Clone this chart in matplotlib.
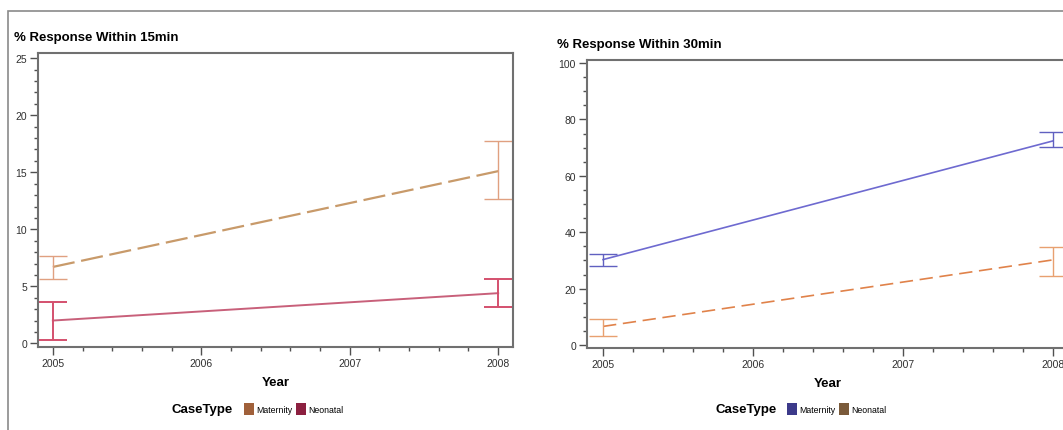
import matplotlib
matplotlib.use("Agg")
import matplotlib.pyplot as plt
from matplotlib.patches import Patch, Rectangle
from matplotlib.ticker import MultipleLocator

plt.rcParams["font.family"] = ["Liberation Sans", "DejaVu Sans"]

years = [2005, 2008]
year_ticks = [2005, 2006, 2007, 2008]

# % response within 15 min
mat15 = [6.7, 15.1]
mat15_lo = [5.6, 12.7]
mat15_hi = [7.7, 17.7]
neo15 = [2.0, 4.4]
neo15_lo = [0.3, 3.2]
neo15_hi = [3.6, 5.6]

# % response within 30 min
mat30 = [30.3, 72.4]
mat30_lo = [27.9, 70.1]
mat30_hi = [32.3, 75.4]
neo30 = [6.6, 30.2]
neo30_lo = [3.1, 24.6]
neo30_hi = [9.2, 34.6]

fig = plt.figure(figsize=(10.63, 4.31), dpi=100)

# outer frame of the screenshot
fig.patches.append(Rectangle((8 / 1063, -0.1), 1.2, 1 - 12 / 431 + 0.1,
                             transform=fig.transFigure, fill=False,
                             edgecolor="#8a8a8a", lw=1.2))

ax1 = fig.add_axes([38 / 1063, 1 - 348 / 431, 475 / 1063, 294 / 431])
ax2 = fig.add_axes([587 / 1063, 1 - 349 / 431, 481 / 1063, 288 / 431])


def yerr(v, lo, hi):
    return [[a - b for a, b in zip(v, lo)], [b - a for a, b in zip(v, hi)]]


ax1.plot(years, mat15, color="#c89a6a", lw=1.6, ls=(0, (10, 3)))
ax1.errorbar(years, mat15, yerr=yerr(mat15, mat15_lo, mat15_hi), fmt="none",
             ecolor="#e0a080", elinewidth=1.0, capsize=10, capthick=1.0)
ax1.plot(years, neo15, color="#c8607a", lw=1.4)
ax1.errorbar(years, neo15, yerr=yerr(neo15, neo15_lo, neo15_hi), fmt="none",
             ecolor="#d4506e", elinewidth=1.4, capsize=10, capthick=1.4)

ax2.plot(years, mat30, color="#6e6ad0", lw=1.2)
ax2.errorbar(years, mat30, yerr=yerr(mat30, mat30_lo, mat30_hi), fmt="none",
             ecolor="#6060c0", elinewidth=1.0, capsize=10, capthick=1.0)
ax2.plot(years, neo30, color="#e0824a", lw=1.2, ls=(0, (8, 4)))
ax2.errorbar(years, neo30, yerr=yerr(neo30, neo30_lo, neo30_hi), fmt="none",
             ecolor="#e8a070", elinewidth=1.0, capsize=10, capthick=1.0)

ax1.set_xlim(2004.9, 2008.1)
ax1.set_ylim(-0.32, 25.46)
ax1.yaxis.set_major_locator(MultipleLocator(5))
ax1.yaxis.set_minor_locator(MultipleLocator(1))

ax2.set_xlim(2004.893, 2008.1)
ax2.set_ylim(-1.06, 101.1)
ax2.yaxis.set_major_locator(MultipleLocator(20))
ax2.yaxis.set_minor_locator(MultipleLocator(5))

for ax in (ax1, ax2):
    ax.set_xticks(year_ticks)
    ax.set_xticklabels([str(y) for y in year_ticks])
    ax.xaxis.set_minor_locator(MultipleLocator(0.2))
    ax.tick_params(which="major", direction="out", length=6, width=1,
                   color="#505050", labelsize=7.5, labelcolor="#303030", pad=2)
    ax.tick_params(which="minor", direction="out", length=3, width=1,
                   color="#505050")
    for s in ax.spines.values():
        s.set_color("#707070")
        s.set_linewidth(1.5)
    ax.set_xlabel("Year", fontsize=9.5, fontweight="bold", labelpad=6)

fig.text(14 / 1063, 1 - 38 / 431, "% Response Within 15min", fontsize=9.5,
         fontweight="bold", va="center", ha="left")
fig.text(557 / 1063, 1 - 45 / 431, "% Response Within 30min", fontsize=9.5,
         fontweight="bold", va="center", ha="left")

# legends
legends = [
    (172, ["#a0603a", "#8c2040"], ax1),
    (715, ["#3c3a8a", "#7a5a3a"], ax2),
]
for x0, cols, ax in legends:
    fig.text(x0 / 1063, 1 - 410 / 431, "CaseType", fontsize=9.5,
             fontweight="bold", va="center", ha="left")
    handles = [Patch(facecolor=cols[0], edgecolor="none", label="Maternity"),
               Patch(facecolor=cols[1], edgecolor="none", label="Neonatal")]
    fig.legend(handles=handles, loc="center left",
               bbox_to_anchor=((x0 + 72) / 1063, 1 - 410 / 431), ncol=2,
               frameon=False, fontsize=6.3, handlelength=1.1, handleheight=1.6,
               handletextpad=0.3, columnspacing=0.4, borderpad=0,
               borderaxespad=0)

fig.savefig("out.png", dpi=100)
